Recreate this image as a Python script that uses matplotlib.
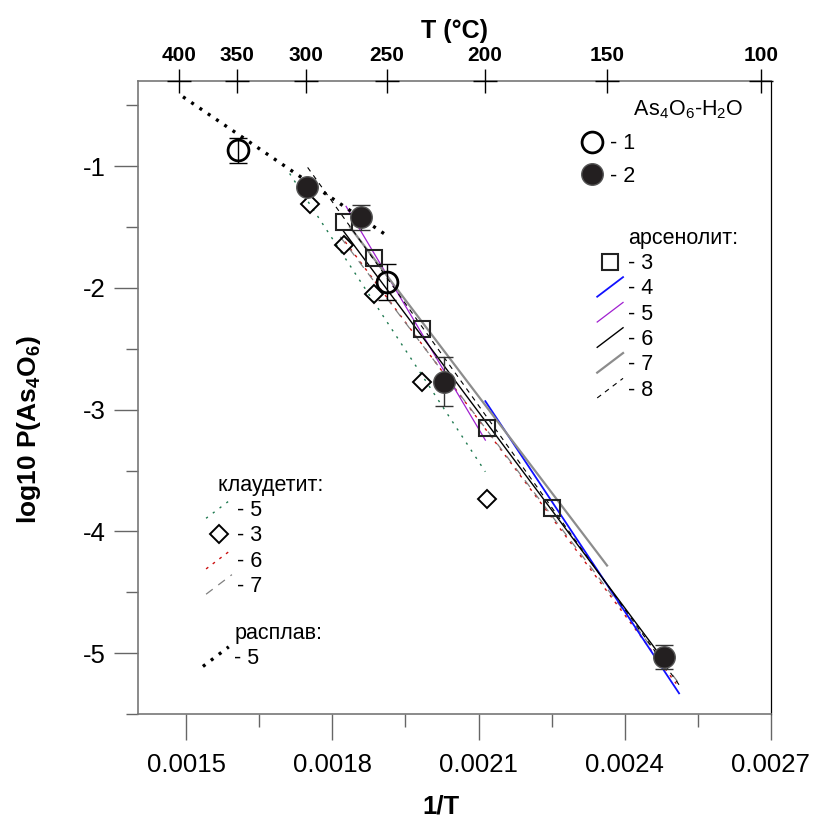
import numpy as np
import matplotlib
matplotlib.use("Agg")
import matplotlib.pyplot as plt
from matplotlib.lines import Line2D
from matplotlib.legend_handler import HandlerBase

plt.rcParams["font.family"] = ["Liberation Sans", "DejaVu Sans"]
plt.rcParams["mathtext.default"] = "regular"
plt.rcParams["lines.scale_dashes"] = False

# === Data ===
# As4O6-H2O, open circles (1)
open_x = [0.001606, 0.001913]
open_y = [-0.87, -1.95]
open_err = [0.10, 0.15]

# As4O6-H2O, filled circles (2)
fill_x = [0.001747, 0.001859, 0.002030, 0.002481]
fill_y = [-1.17, -1.42, -2.77, -5.03]
fill_err = [0.0, 0.10, 0.20, 0.10]

# arsenolite, open squares (3)
ars_x = [0.001824, 0.001886, 0.001984, 0.002118, 0.002251]
ars_y = [-1.46, -1.75, -2.34, -3.15, -3.81]

# claudetite, open diamonds (3)
cla_x = [0.001754, 0.001824, 0.001886, 0.001984, 0.002118]
cla_y = [-1.31, -1.65, -2.05, -2.77, -3.73]

# literature lines, start and end points
ars4_x = [0.002114, 0.002512]
ars4_y = [-2.93, -5.33]
ars5_x = [0.001828, 0.002114]
ars5_y = [-1.33, -3.25]
ars6_x = [0.001822, 0.002481]
ars6_y = [-1.53, -5.06]
ars7_x = [0.001836, 0.002364]
ars7_y = [-1.50, -4.28]
ars8_x = [0.001749, 0.002512]
ars8_y = [-1.01, -5.26]
cla5_x = [0.001712, 0.002114]
cla5_y = [-1.06, -3.51]
cla6_x = [0.001826, 0.002506]
cla6_y = [-1.62, -5.25]
cla7_x = [0.001816, 0.002512]
cla7_y = [-1.58, -5.25]
melt_x = [0.001493, 0.001912]
melt_y = [-0.43, -1.57]

x_major = [0.0015, 0.0018, 0.0021, 0.0024, 0.0027]
x_minor = [0.00165, 0.00195, 0.00225, 0.00255]
y_major = [-1, -2, -3, -4, -5]
y_minor = [-0.5, -1.5, -2.5, -3.5, -4.5, -5.5]
top_temps = [400, 350, 300, 250, 200, 150, 100]

# === Styles ===
STY = {
    "ars4": dict(color="#1010ff", lw=1.3),
    "ars5": dict(color="#a020d0", lw=0.9),
    "ars6": dict(color="black", lw=1.0),
    "ars7": dict(color="#8c8c8c", lw=1.6),
    "ars8": dict(color="black", lw=0.8, dashes=(3.5, 3.5)),
    "cla5": dict(color="#1f7a50", lw=1.0, dashes=(1.6, 4.5)),
    "cla6": dict(color="#cc1010", lw=1.0, dashes=(2.0, 4.0)),
    "cla7": dict(color="#808080", lw=0.9, dashes=(6.0, 5.0)),
    "melt": dict(color="black", lw=2.4, dashes=(2.2, 5.0)),
}
SPINE_GRAY = "#777777"
LEG_FS = 15.5


class DiagLine(HandlerBase):
    """Legend handle drawn as a slanted line."""

    def create_artists(self, legend, orig_handle, xdescent, ydescent,
                       width, height, fontsize, trans):
        ln = Line2D([-xdescent, -xdescent + width],
                    [-ydescent - 0.15 * height, -ydescent + 1.15 * height])
        self.update_prop(ln, orig_handle, legend)
        ln.set_transform(trans)
        return [ln]


def main():
    fig = plt.figure(figsize=(8.14, 8.18), dpi=100)
    ax = fig.add_axes([0.1692, 0.1271, 0.7775, 0.7739])

    lines = {}
    for key, xs, ys in [("cla5", cla5_x, cla5_y), ("cla6", cla6_x, cla6_y),
                        ("cla7", cla7_x, cla7_y), ("ars4", ars4_x, ars4_y),
                        ("ars5", ars5_x, ars5_y), ("ars6", ars6_x, ars6_y),
                        ("ars7", ars7_x, ars7_y), ("ars8", ars8_x, ars8_y),
                        ("melt", melt_x, melt_y)]:
        lines[key], = ax.plot(xs, ys, zorder=2, **STY[key])

    sq, = ax.plot(ars_x, ars_y, ls="none", marker="s", ms=11.5, mfc="none",
                  mec="#222222", mew=1.5, zorder=4)
    dia, = ax.plot(cla_x, cla_y, ls="none", marker="D", ms=9.5, mfc="none",
                   mec="black", mew=1.4, zorder=4)

    ax.errorbar(open_x, open_y, yerr=open_err, fmt="none", ecolor="black",
                elinewidth=1.0, capsize=6.5, capthick=1.0, zorder=3)
    ax.errorbar(fill_x, fill_y, yerr=fill_err, fmt="none", ecolor="#333333",
                elinewidth=1.0, capsize=6.5, capthick=1.0, zorder=3)
    op, = ax.plot(open_x, open_y, ls="none", marker="o", ms=15, mfc="none",
                  mec="black", mew=2.0, zorder=5)
    fl, = ax.plot(fill_x, fill_y, ls="none", marker="o", ms=15.5, mfc="#231f20",
                  mec="#555555", mew=1.0, zorder=5)

    # axes
    ax.set_xlim(0.0014, 0.0027)
    ax.set_ylim(-5.5, -0.3)
    ax.set_xticks(x_major)
    ax.set_xticklabels([f"{v:.4f}" for v in x_major])
    ax.set_xticks(x_minor, minor=True)
    ax.set_yticks(y_major)
    ax.set_yticklabels([f"{v:d}" for v in y_major])
    ax.set_yticks(y_minor, minor=True)
    ax.tick_params(axis="both", which="both", direction="out", width=1.0,
                   color="#666666", labelsize=18.5)
    ax.tick_params(axis="x", which="major", length=19, pad=9)
    ax.tick_params(axis="x", which="minor", length=9.5)
    ax.tick_params(axis="y", which="major", length=17, pad=6)
    ax.tick_params(axis="y", which="minor", length=8.5)
    for side in ["top", "bottom", "left"]:
        ax.spines[side].set_color(SPINE_GRAY)
        ax.spines[side].set_linewidth(1.2)
    ax.spines["right"].set_color("black")
    ax.spines["right"].set_linewidth(0.9)

    ax.set_xlabel("1/T", fontsize=18.5, fontweight="bold")
    ax.xaxis.set_label_coords(0.479, -0.127)
    ax.set_ylabel("log10 P(As$_4$O$_6$)", fontsize=19, fontweight="bold")
    ax.yaxis.set_label_coords(-0.15, 0.45)

    # top axis in degrees Celsius
    top = ax.twiny()
    top.set_xlim(ax.get_xlim())
    top_pos = [1.0 / (t + 273.15) for t in top_temps]
    top.set_xticks(top_pos)
    top.set_xticklabels([str(t) for t in top_temps], fontweight="bold",
                        fontsize=15)
    top.tick_params(axis="x", direction="inout", length=17, width=1.0,
                    color="black", pad=3)
    for side in top.spines:
        top.spines[side].set_visible(False)
    top.plot(top_pos, np.ones(len(top_pos)), transform=top.get_xaxis_transform(),
             ls="none", marker="_", ms=17, mew=1.0, color="black", clip_on=False)
    top.set_xlabel("T (°C)", fontsize=18, fontweight="bold", labelpad=6)

    # legends
    blank = Line2D([], [], ls="none")
    blank2 = Line2D([], [], ls="none")
    blank3 = Line2D([], [], ls="none")
    common = dict(frameon=False, fontsize=LEG_FS, handlelength=1.2,
                  handletextpad=0.25, borderpad=0, borderaxespad=0)
    diag = {lines[k]: DiagLine() for k in lines}

    leg1 = ax.legend([blank, op, fl], ["    As$_4$O$_6$-H$_2$O", "- 1", "- 2"],
                     loc="upper left", bbox_to_anchor=(0.697, 0.972),
                     labelspacing=0.55, **common)
    ax.add_artist(leg1)

    leg2 = ax.legend([blank2, sq, lines["ars4"], lines["ars5"], lines["ars6"],
                      lines["ars7"], lines["ars8"]],
                     ["арсенолит:", "- 3", "- 4", "- 5", "- 6", "- 7", "- 8"],
                     loc="upper left", bbox_to_anchor=(0.726, 0.768),
                     labelspacing=0.2, handler_map=diag, **common)
    ax.add_artist(leg2)

    leg3 = ax.legend([lines["cla5"], dia, lines["cla6"], lines["cla7"]],
                     ["- 5", "- 3", "- 6", "- 7"], title="  клаудетит:",
                     title_fontsize=LEG_FS, alignment="left",
                     loc="upper left", bbox_to_anchor=(0.108, 0.378),
                     labelspacing=0.2, handler_map=diag, **common)
    ax.add_artist(leg3)

    ax.legend([blank3, lines["melt"]], ["расплав:", "- 5"],
              loc="upper left", bbox_to_anchor=(0.103, 0.144),
              labelspacing=0.2, handler_map=diag, **common)

    fig.savefig("out.png", dpi=100)


if __name__ == "__main__":
    main()
